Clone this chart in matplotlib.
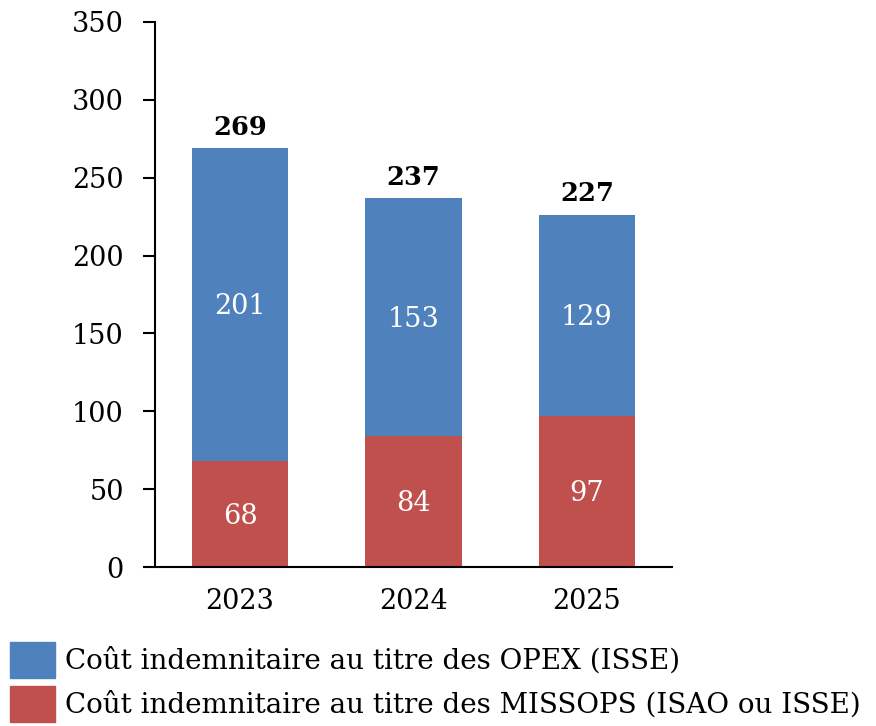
import matplotlib
matplotlib.use("Agg")
import matplotlib.pyplot as plt
from matplotlib.patches import Patch

years = ["2023", "2024", "2025"]
missops = [68, 84, 97]
opex = [201, 153, 129]
totals = [269, 237, 227]
label_opex = "Coût indemnitaire au titre des OPEX (ISSE)"
label_missops = "Coût indemnitaire au titre des MISSOPS (ISAO ou ISSE)"

blue = "#4F81BD"
red = "#C0504D"
plt.rcParams['font.family'] = ['DejaVu Serif']

fig = plt.figure(figsize=(8.76, 7.26), dpi=100)
ax = fig.add_axes([155/876, 1-567/726, (672-155)/876, (567-22)/726])

x = list(range(len(years)))
w = 0.555
ax.bar(x, missops, width=w, color=red)
ax.bar(x, opex, width=w, bottom=missops, color=blue)

for i in x:
    ax.text(i, missops[i]/2 - 1.5, str(missops[i]), ha='center', va='center', color='white', fontsize=19.5)
    ax.text(i, missops[i] + opex[i]/2 - 1.5, str(opex[i]), ha='center', va='center', color='white', fontsize=19.5)
    ax.text(i, totals[i] + 5, str(totals[i]), ha='center', va='bottom', color='black', fontsize=18.5, fontweight='bold')

ax.set_xlim(-0.49, 2.49)
ax.set_ylim(0, 350)
ax.set_yticks(range(0, 351, 50))
ax.set_xticks(x)
ax.set_xticklabels(years)
ax.spines['top'].set_visible(False)
ax.spines['right'].set_visible(False)
ax.spines['left'].set_linewidth(1.5)
ax.spines['bottom'].set_linewidth(1.5)
ax.tick_params(axis='y', direction='out', length=8.5, width=1.5, labelsize=19.5, pad=14)
ax.tick_params(axis='x', length=0, labelsize=19.5, pad=15)

handles = [Patch(color=blue, label=label_opex), Patch(color=red, label=label_missops)]
fig.legend(handles=handles, loc='upper left', bbox_to_anchor=(10/876, 1-642/726), frameon=False,
           fontsize=20, handlelength=1.62, handleheight=1.6, handletextpad=0.35,
           labelspacing=0.30, borderaxespad=0, borderpad=0)

fig.savefig("out.png", dpi=100)
